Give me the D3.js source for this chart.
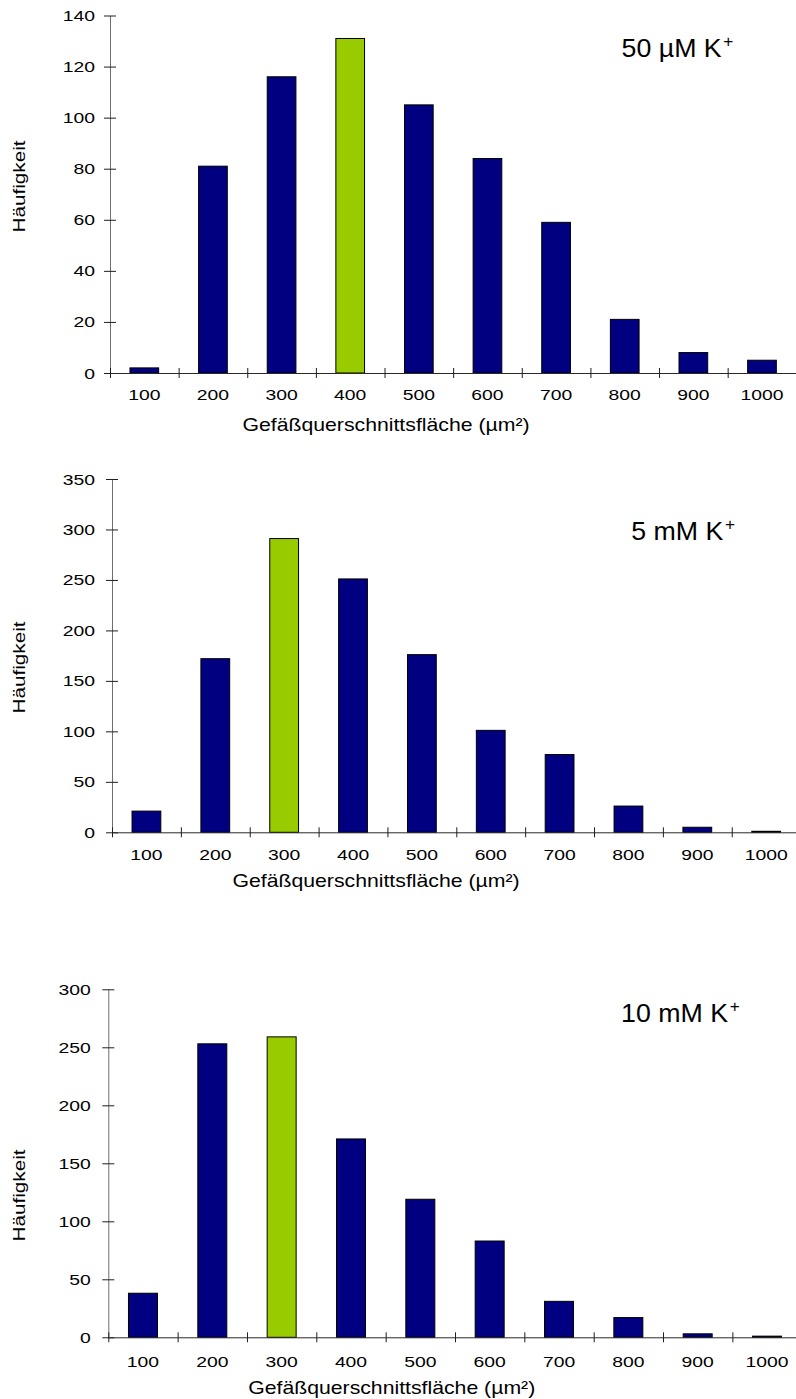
<!DOCTYPE html>
<html lang="de">
<head>
<meta charset="utf-8">
<title>Häufigkeitsverteilung der Gefäßquerschnittsfläche</title>
<script src="https://cdn.jsdelivr.net/npm/d3@7"></script>
<style>
  html, body { margin: 0; padding: 0; background: #fff; }
  svg { display: block; }
  text { font-family: "Liberation Sans", Arial, Helvetica, sans-serif; fill: #000; }
</style>
</head>
<body>
<svg id="chart" width="796" height="1399"></svg>
<script>
// Size classes of the vessel cross-section area (µm²)
const categories = ["100", "200", "300", "400", "500", "600", "700", "800", "900", "1000"];

// Frequencies per size class for each potassium concentration
const counts50uM = [2, 81, 116, 131, 105, 84, 59, 21, 8, 5];
const counts5mM  = [21, 172, 291, 251, 176, 101, 77, 26, 5, 1];
const counts10mM = [38, 253, 259, 171, 119, 83, 31, 17, 3, 1];

// Condition labels (the superscript "+" is appended when drawn)
const conditionLabels = ["50 µM K", "5 mM K", "10 mM K"];

// Value axis extents and tick steps
const yMaxima = [140, 350, 300];
const ySteps  = [20, 50, 50];

const yAxisTitle = "Häufigkeit";
const xAxisTitle = "Gefäßquerschnittsfläche (µm²)";

const seriesList = [counts50uM, counts5mM, counts10mM];

// Panel geometry (pixels)
const layout = [
  { left: 110,   right: 796.3, top: 15.5,  base: 373,    yLabGap: 15,   xLabOff: 27,   xTitleCx: 386,   xTitleBase: 431,  yTitleCy: 186.5,  labelX: 621.6, labelBase: 56.7 },
  { left: 112,   right: 800.6, top: 479,   base: 832.3,  yLabGap: 17,   xLabOff: 27.7, xTitleCx: 376,   xTitleBase: 887,  yTitleCy: 667.5,  labelX: 631.2, labelBase: 540 },
  { left: 108.3, right: 801.7, top: 989.3, base: 1337.3, yLabGap: 17.6, xLabOff: 30.2, xTitleCx: 391.7, xTitleBase: 1394, yTitleCy: 1195.5, labelX: 621.1, labelBase: 1021.7 }
];

const style = {
  barFill: "#000080",
  peakFill: "#99CC00",
  barStroke: "#000",
  yAxisLine: "#6e6e6e",
  xAxisLine: "#2a2a2a",
  tickColor: "#1e1e1e",
  tickFont: 14, tickStretch: 1.38,
  titleFont: 18, titleStretch: 1.18,
  yTitleFont: 17, yTitleStretch: 1.22,
  labelFont: 25, labelStretch: 1.07,
  supFont: 16
};

const svg = d3.select("#chart");

seriesList.forEach((values, i) => {
  const L = layout[i];
  const g = svg.append("g");

  // One equal slot per size class, bar centred in its slot
  const x = d3.scaleBand()
    .domain(categories)
    .range([L.left, L.right])
    .paddingInner(0.582)
    .paddingOuter(0.291);

  // Class boundaries for the tick marks
  const xEdges = d3.scaleLinear()
    .domain([0, categories.length])
    .range([L.left, L.right]);

  const y = d3.scaleLinear()
    .domain([0, yMaxima[i]])
    .range([L.base, L.top]);

  const peak = d3.maxIndex(values);

  // Bars
  g.selectAll("rect.bar")
    .data(values)
    .join("rect")
    .attr("class", "bar")
    .attr("x", (d, j) => x(categories[j]))
    .attr("width", x.bandwidth())
    .attr("y", d => y(d))
    .attr("height", d => y(0) - y(d))
    .attr("fill", (d, j) => j === peak ? style.peakFill : style.barFill)
    .attr("stroke", style.barStroke)
    .attr("stroke-width", 1);

  // Value axis with crossing tick marks
  const yAxis = g.append("g")
    .attr("transform", `translate(${L.left},0)`)
    .call(d3.axisLeft(y)
      .tickValues(d3.range(0, yMaxima[i] + 1, ySteps[i]))
      .tickSize(6)
      .tickSizeOuter(0)
      .tickPadding(0));
  yAxis.select(".domain").attr("stroke", style.yAxisLine);
  yAxis.selectAll(".tick line").attr("x1", 6).attr("stroke", style.tickColor);
  yAxis.selectAll(".tick text")
    .attr("x", -L.yLabGap / style.tickStretch)
    .attr("dy", null)
    .attr("y", style.tickFont * 0.36)
    .attr("transform", `scale(${style.tickStretch},1)`)
    .style("font-size", style.tickFont + "px")
    .style("font-family", null)
    .attr("fill", "#000");

  // Category axis line with boundary ticks
  const xLine = g.append("g")
    .attr("transform", `translate(0,${L.base})`)
    .call(d3.axisBottom(xEdges)
      .tickValues(d3.range(0, categories.length + 1))
      .tickFormat("")
      .tickSize(5)
      .tickSizeOuter(0));
  xLine.select(".domain").attr("stroke", style.xAxisLine);
  xLine.selectAll(".tick line").attr("y1", -5).attr("stroke", style.tickColor);

  // Category labels under each bar
  const xLabels = g.append("g")
    .attr("transform", `translate(0,${L.base})`)
    .call(d3.axisBottom(x).tickSize(0).tickPadding(0));
  xLabels.select(".domain").remove();
  xLabels.selectAll(".tick text")
    .attr("dy", null)
    .attr("y", L.xLabOff)
    .attr("transform", `scale(${style.tickStretch},1)`)
    .style("font-size", style.tickFont + "px")
    .style("font-family", null)
    .attr("fill", "#000");

  // Axis titles
  g.append("text")
    .attr("transform", `translate(${L.xTitleCx},${L.xTitleBase}) scale(${style.titleStretch},1)`)
    .attr("text-anchor", "middle")
    .style("font-size", style.titleFont + "px")
    .text(xAxisTitle);

  g.append("text")
    .attr("transform", `translate(25,${L.yTitleCy}) rotate(-90) scale(${style.yTitleStretch},1)`)
    .attr("text-anchor", "middle")
    .style("font-size", style.yTitleFont + "px")
    .text(yAxisTitle);

  // Condition label with superscript charge
  const lab = g.append("text")
    .attr("transform", `translate(${L.labelX},${L.labelBase}) scale(${style.labelStretch},1)`)
    .style("font-size", style.labelFont + "px");
  lab.append("tspan").text(conditionLabels[i]);
  lab.append("tspan")
    .attr("dx", 1.5)
    .attr("dy", -10)
    .style("font-size", style.supFont + "px")
    .text("+");
});
</script>
</body>
</html>
